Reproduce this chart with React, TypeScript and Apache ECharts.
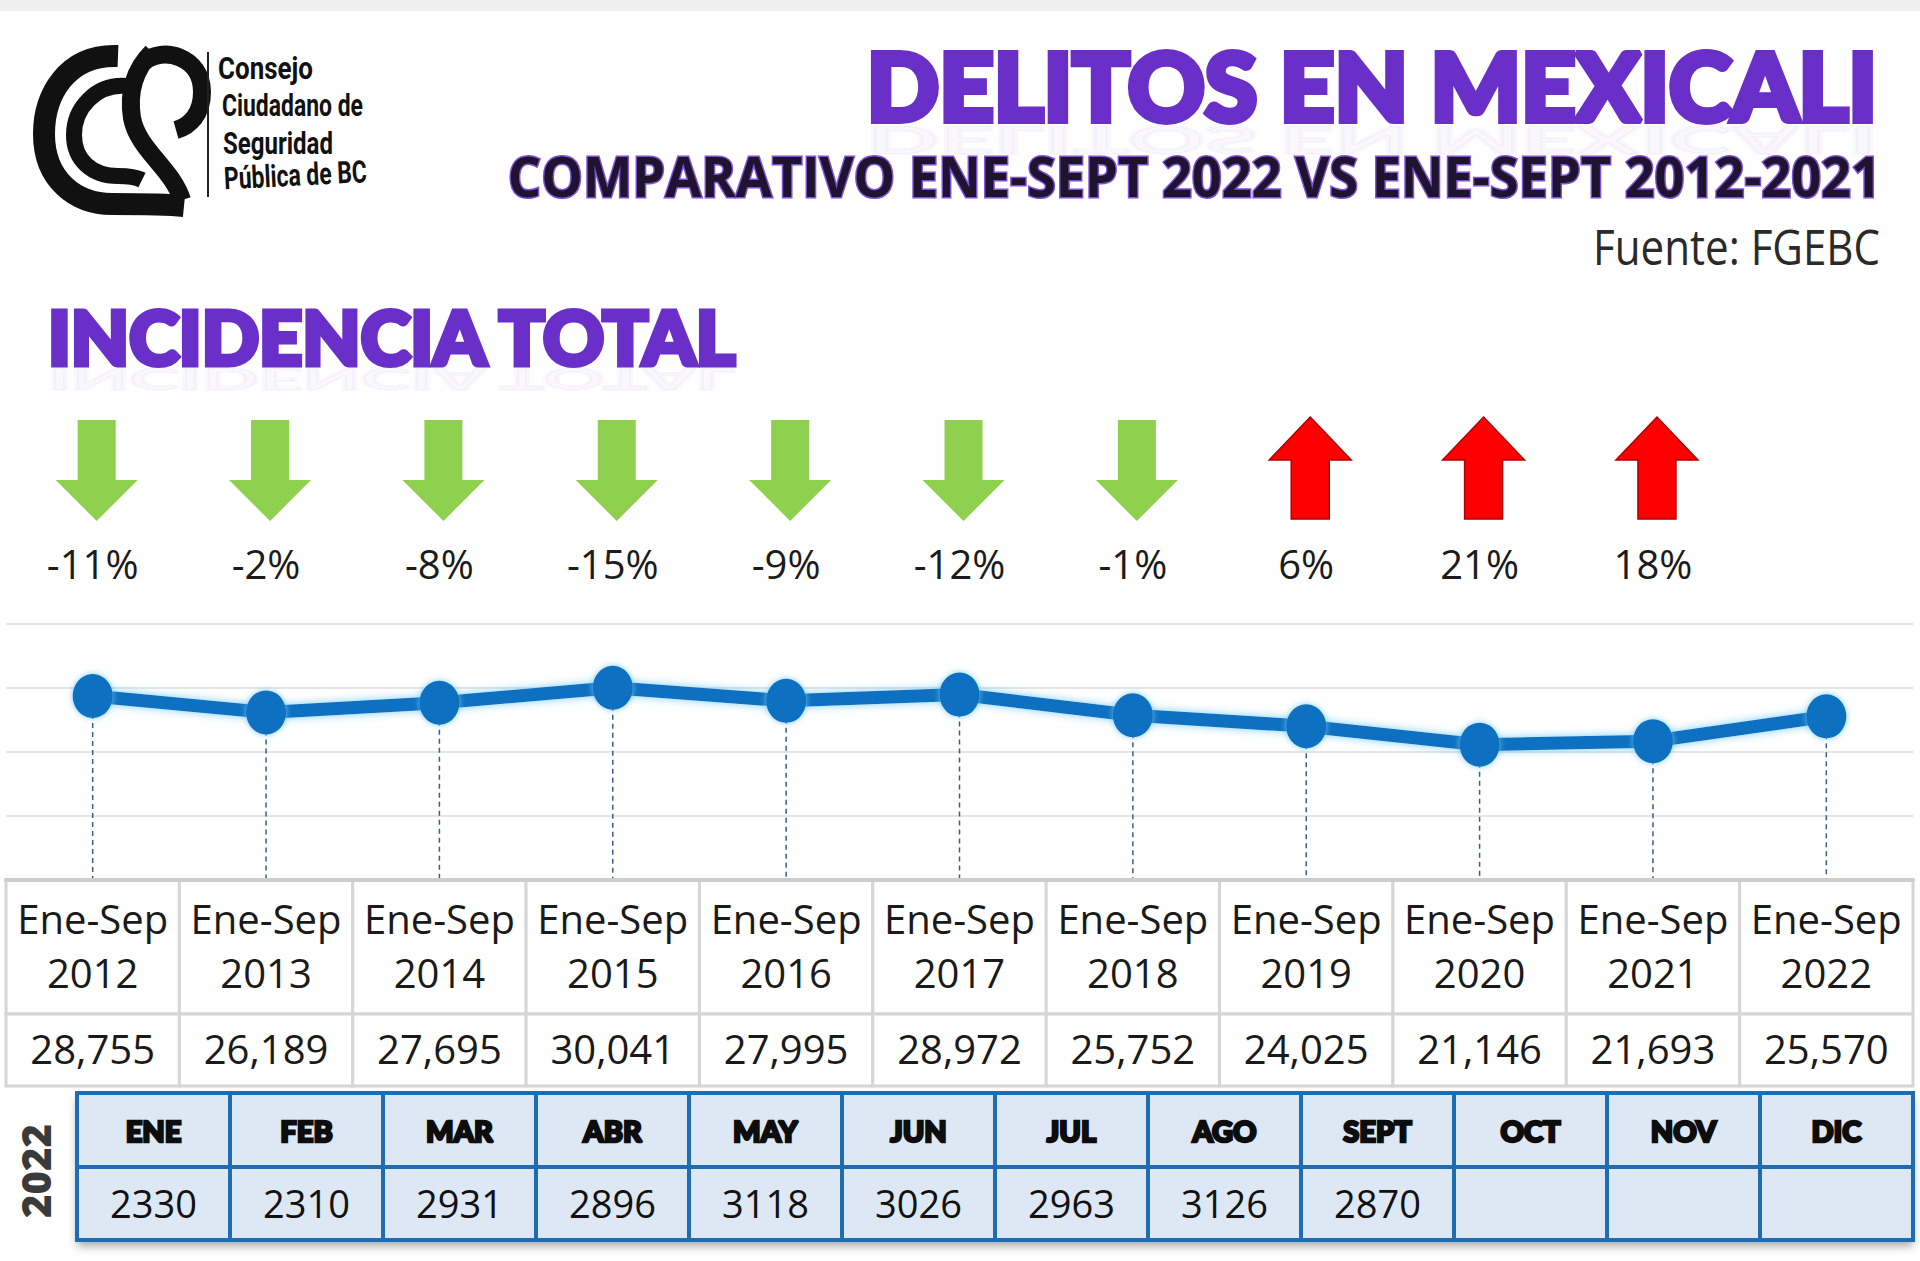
import React, { useEffect, useRef } from "react";
import * as echarts from "echarts";

// ---------------- data ----------------
const yearLabels = ["2012", "2013", "2014", "2015", "2016", "2017", "2018", "2019", "2020", "2021", "2022"];
const periodPrefix = "Ene-Sep";
const totals = [28755, 26189, 27695, 30041, 27995, 28972, 25752, 24025, 21146, 21693, 25570];
const changes = [-11, -2, -8, -15, -9, -12, -1, 6, 21, 18];
const months = ["ENE", "FEB", "MAR", "ABR", "MAY", "JUN", "JUL", "AGO", "SEPT", "OCT", "NOV", "DIC"];
const monthly2022 = [2330, 2310, 2931, 2896, 3118, 3026, 2963, 3126, 2870];
const yMin = 0;
const yMax = 40000;
const yInterval = 10000;

// ---------------- layout / style ----------------
const FONT = '"Open Sans", "Noto Sans", sans-serif';
const HEAVY = 'Lato, "DejaVu Sans", sans-serif';
const COND = 'Roboto, "Open Sans", sans-serif';

const GRID_LEFT = 6;
const GRID_RIGHT = 7;
const GRID_TOP = 624;
const GRID_H = 256;
const HEAD_H = 134;
const VAL_H = 72;
const M_LEFT = 77;
const M_RIGHT = 7;
const M_TOP = 1093;
const M_H = 147;
const M_HEAD_H = 74;

const LOGO_PATHS: Record<string, string> = {
  ccspOuter: "M 118 56 C 66 54 44 96 44 134 C 44 180 76 204 112 204 C 142 204 164 204 184 206",
  ccspInner: "M 126 86 C 96 84 74 108 74 135 C 74 160 92 176 118 176 C 128 176 136 177 142 180",
  ccspStem: "M 182 200 C 172 168 138 150 132 118 C 128 92 134 70 152 52",
  ccspLoop: "M 144 62 C 162 46 202 56 202 92 C 202 114 190 126 176 130",
};
Object.keys(LOGO_PATHS).forEach((name) => {
  echarts.graphic.registerShape(name, echarts.graphic.extendPath(LOGO_PATHS[name], {}));
});

let measureCtx: CanvasRenderingContext2D | null = null;
function textWidth(text: string, font: string): number {
  if (!measureCtx) measureCtx = document.createElement("canvas").getContext("2d");
  if (!measureCtx) return text.length * 10;
  measureCtx.font = font;
  return measureCtx.measureText(text).width;
}

type TitleOpts = {
  text: string;
  family: string;
  weight: string | number;
  size: number;
  capRatio: number;
  target: number;
  x: number;
  capCenter: number;
  align: "left" | "right" | "center";
  fill: any;
  stroke?: string;
  lineWidth?: number;
  reflect?: number;
  rotation?: number;
};

function titleText(o: TitleOpts): any[] {
  const font = `${o.weight} ${o.size}px ${o.family}`;
  const w = textWidth(o.text, font);
  const sx = o.target / w;
  const capH = o.size * o.capRatio;
  const base: any = {
    text: o.text,
    x: 0,
    y: 0,
    fontSize: o.size,
    fontFamily: o.family,
    fontWeight: o.weight,
    align: o.align,
    textAlign: o.align,
    verticalAlign: "middle",
    textVerticalAlign: "middle",
    fill: o.fill,
  };
  if (o.stroke) {
    base.stroke = o.stroke;
    base.lineWidth = o.lineWidth || 1;
    base.strokeFirst = true;
    base.lineJoin = "round";
  }
  const els: any[] = [];
  if (o.reflect) {
    els.push({
      type: "text",
      x: o.x,
      y: o.capCenter + capH / 2 + 4,
      scaleX: sx,
      scaleY: -0.4,
      style: { ...base, y: -capH / 2 - 0.03 * o.size, opacity: o.reflect },
      silent: true,
    });
  }
  els.push({
    type: "text",
    x: o.x,
    y: o.capCenter - 0.03 * o.size,
    scaleX: sx,
    rotation: o.rotation || 0,
    style: base,
    silent: true,
  });
  return els;
}

function buildOption(): any {
  const purple = "#6a2fc9";

  const graphics: any[] = [
    { type: "rect", shape: { x: 0, y: 0, width: 1920, height: 11 }, style: { fill: "#efefef" }, silent: true },
    // logo
    { type: "ccspOuter", x: 0, y: 0, style: { fill: "none", stroke: "#111", lineWidth: 22 }, silent: true },
    { type: "ccspInner", x: 0, y: 0, style: { fill: "none", stroke: "#111", lineWidth: 16 }, silent: true },
    { type: "ccspStem", x: 0, y: 0, style: { fill: "none", stroke: "#111", lineWidth: 18 }, silent: true },
    { type: "ccspLoop", x: 0, y: 0, style: { fill: "none", stroke: "#111", lineWidth: 18 }, silent: true },
    { type: "line", shape: { x1: 208, y1: 52, x2: 208, y2: 197 }, style: { stroke: "#222", lineWidth: 2 }, silent: true },
    ...titleText({ text: "Consejo", family: COND, weight: 700, size: 31, capRatio: 0.711, target: 95, x: 218, capCenter: 69, align: "left", fill: "#111" }),
    ...titleText({ text: "Ciudadano de", family: COND, weight: 700, size: 31, capRatio: 0.711, target: 141, x: 222, capCenter: 107, align: "left", fill: "#111" }),
    ...titleText({ text: "Seguridad", family: COND, weight: 700, size: 31, capRatio: 0.711, target: 110, x: 223, capCenter: 144, align: "left", fill: "#111" }),
    ...titleText({ text: "Pública de BC", family: COND, weight: 700, size: 31, capRatio: 0.711, target: 143, x: 224, capCenter: 180, align: "left", fill: "#111", rotation: 0.05 }),
    // titles
    ...titleText({ text: "DELITOS EN MEXICALI", family: HEAVY, weight: 900, size: 94, capRatio: 0.717, target: 1010, x: 1877, capCenter: 88, align: "right", fill: purple, stroke: purple, lineWidth: 6, reflect: 0.045 }),
    ...titleText({ text: "COMPARATIVO ENE-SEPT 2022 VS ENE-SEPT 2012-2021", family: FONT, weight: 700, size: 56, capRatio: 0.714, target: 1374, x: 1881, capCenter: 177, align: "right", fill: "#1e1430", stroke: "#8350d8", lineWidth: 3 }),
    ...titleText({ text: "Fuente: FGEBC", family: FONT, weight: 400, size: 49, capRatio: 0.714, target: 287, x: 1880, capCenter: 247, align: "right", fill: "#2a2a2a" }),
    ...titleText({ text: "INCIDENCIA TOTAL", family: HEAVY, weight: 900, size: 74, capRatio: 0.717, target: 692, x: 48, capCenter: 338, align: "left", fill: purple, stroke: purple, lineWidth: 5, reflect: 0.045 }),
    // 2022 vertical label
    {
      type: "text",
      x: 35,
      y: 1171,
      rotation: Math.PI / 2,
      style: {
        text: "2022",
        x: 0,
        y: 0,
        fontSize: 40,
        fontFamily: FONT,
        fontWeight: 800,
        fill: "#3a3a3a",
        align: "center",
        textAlign: "center",
        verticalAlign: "middle",
        textVerticalAlign: "middle",
      },
      silent: true,
    },
    // monthly table frame shadow
    {
      type: "rect",
      shape: { x: M_LEFT, y: M_TOP, width: 1920 - M_LEFT - M_RIGHT, height: M_H },
      style: { fill: "#dde8f4", shadowColor: "rgba(0,0,0,0.35)", shadowBlur: 10, shadowOffsetY: 6 },
      silent: true,
    },
  ];

  const lineBlue = "#0b6fc0";

  const series: any[] = [
    // yearly table cells (under the axis)
    {
      type: "custom",
      xAxisIndex: 0,
      yAxisIndex: 0,
      z: 1,
      clip: false,
      silent: true,
      data: totals.map((v, i) => [i, v]),
      renderItem: (params: any, api: any) => {
        const i = api.value(0);
        const p = api.coord([i, yMin]);
        const w = api.size([1, 0])[0];
        const idx = params.dataIndex;
        const cx = p[0];
        const y0 = p[1];
        const txt = (t: string, y: number, lh?: number) => ({
          type: "text",
          style: {
            text: t,
            x: cx,
            y,
            fontSize: 40,
            fontFamily: FONT,
            fill: "#1a1a1a",
            lineHeight: lh || 50,
            align: "center",
            textAlign: "center",
            verticalAlign: "middle",
            textVerticalAlign: "middle",
          },
        });
        return {
          type: "group",
          children: [
            { type: "rect", shape: { x: cx - w / 2, y: y0, width: w, height: HEAD_H }, style: { fill: "#fff", stroke: "#d6d6d6", lineWidth: 3 } },
            { type: "rect", shape: { x: cx - w / 2, y: y0 + HEAD_H, width: w, height: VAL_H }, style: { fill: "#fff", stroke: "#d6d6d6", lineWidth: 3 } },
            txt(periodPrefix + "\n" + yearLabels[idx], y0 + HEAD_H / 2 - 2, 54),
            txt(totals[idx].toLocaleString("en-US"), y0 + HEAD_H + VAL_H / 2 - 2),
          ],
        };
      },
    },
    // dashed drop lines
    {
      type: "custom",
      xAxisIndex: 0,
      yAxisIndex: 0,
      z: 1,
      clip: false,
      silent: true,
      data: totals.map((v, i) => [i, v]),
      renderItem: (params: any, api: any) => {
        const a = api.coord([api.value(0), api.value(1)]);
        const b = api.coord([api.value(0), yMin]);
        return {
          type: "line",
          shape: { x1: a[0], y1: a[1], x2: b[0], y2: b[1] },
          style: { stroke: "#3a5f80", lineWidth: 1.5, lineDash: [5, 4] },
        };
      },
    },
    // main line
    {
      type: "line",
      xAxisIndex: 0,
      yAxisIndex: 0,
      z: 3,
      data: totals,
      symbol: "circle",
      symbolSize: [40, 44],
      lineStyle: { color: lineBlue, width: 13, shadowColor: "rgba(110,200,245,0.9)", shadowBlur: 8 },
      itemStyle: { color: lineBlue, shadowColor: "rgba(110,200,245,0.9)", shadowBlur: 6 },
      label: { show: false },
      silent: true,
    },
    // change arrows + percentage
    {
      type: "custom",
      xAxisIndex: 0,
      yAxisIndex: 0,
      z: 4,
      clip: false,
      silent: true,
      data: changes.map((c, i) => [i, c]),
      renderItem: (params: any, api: any) => {
        const i = api.value(0);
        const c = changes[params.dataIndex];
        const top = api.coord([i, yMax]);
        const cx = top[0] + 4;
        const g = top[1];
        const sw = 19;
        const hw = 41;
        let points: number[][];
        let style: any;
        if (c < 0) {
          const t = g - 204, hs = g - 144, tip = g - 103;
          points = [[cx - sw, t], [cx + sw, t], [cx + sw, hs], [cx + hw, hs], [cx, tip], [cx - hw, hs], [cx - sw, hs]];
          style = { fill: "#8fd14f" };
        } else {
          const tip = g - 207, hb = g - 164, bot = g - 105;
          points = [[cx, tip], [cx + hw, hb], [cx + sw, hb], [cx + sw, bot], [cx - sw, bot], [cx - sw, hb], [cx - hw, hb]];
          style = { fill: "#ff0000", stroke: "#b00000", lineWidth: 1.5 };
        }
        return {
          type: "group",
          children: [
            { type: "polygon", shape: { points }, style },
            {
              type: "text",
              style: {
                text: `${c}%`,
                x: top[0],
                y: g - 61,
                fontSize: 40,
                fontFamily: FONT,
                fill: "#1b1b1b",
                align: "center",
                textAlign: "center",
                verticalAlign: "middle",
                textVerticalAlign: "middle",
              },
            },
          ],
        };
      },
    },
    // monthly 2022 table
    {
      type: "custom",
      xAxisIndex: 1,
      yAxisIndex: 1,
      z: 2,
      clip: false,
      silent: true,
      data: months.map((m, i) => [i, 1]),
      renderItem: (params: any, api: any) => {
        const i = api.value(0);
        const idx = params.dataIndex;
        const t = api.coord([i, 1]);
        const b = api.coord([i, 0]);
        const w = api.size([1, 0])[0];
        const x0 = t[0] - w / 2;
        const cellStyle = { fill: "#dde8f4", stroke: "#1e6db3", lineWidth: 4 };
        const v = monthly2022[idx];
        return {
          type: "group",
          children: [
            { type: "rect", shape: { x: x0, y: t[1], width: w, height: M_HEAD_H }, style: cellStyle },
            { type: "rect", shape: { x: x0, y: t[1] + M_HEAD_H, width: w, height: b[1] - t[1] - M_HEAD_H }, style: cellStyle },
            {
              type: "text",
              style: {
                text: months[idx],
                x: t[0],
                y: t[1] + M_HEAD_H / 2,
                fontSize: 29,
                fontFamily: HEAVY,
                fontWeight: 900,
                fill: "#0d0d0d",
                stroke: "#0d0d0d",
                lineWidth: 2.5,
                lineJoin: "round",
                align: "center",
                textAlign: "center",
                verticalAlign: "middle",
                textVerticalAlign: "middle",
              },
            },
            {
              type: "text",
              style: {
                text: v == null ? "" : String(v),
                x: t[0],
                y: t[1] + M_HEAD_H + (b[1] - t[1] - M_HEAD_H) / 2 - 1,
                fontSize: 38,
                fontFamily: FONT,
                fill: "#111",
                align: "center",
                textAlign: "center",
                verticalAlign: "middle",
                textVerticalAlign: "middle",
              },
            },
          ],
        };
      },
    },
  ];

  return {
    animation: false,
    backgroundColor: "#ffffff",
    grid: [
      { left: GRID_LEFT, right: GRID_RIGHT, top: GRID_TOP, height: GRID_H },
      { left: M_LEFT, right: M_RIGHT, top: M_TOP, height: M_H },
    ],
    xAxis: [
      {
        type: "category",
        gridIndex: 0,
        data: yearLabels,
        boundaryGap: true,
        z: 3,
        axisLine: { show: true, lineStyle: { color: "#cdcdcd", width: 4 } },
        axisTick: { show: false },
        axisLabel: { show: false },
        splitLine: { show: false },
      },
      { type: "category", gridIndex: 1, data: months, boundaryGap: true, show: false },
    ],
    yAxis: [
      {
        type: "value",
        gridIndex: 0,
        min: yMin,
        max: yMax,
        interval: yInterval,
        axisLine: { show: false },
        axisTick: { show: false },
        axisLabel: { show: false },
        splitLine: { show: true, lineStyle: { color: "#e6e6e6", width: 2 } },
      },
      { type: "value", gridIndex: 1, min: 0, max: 1, show: false },
    ],
    tooltip: { show: false },
    graphic: { elements: graphics },
    series,
  };
}

export default function App() {
  const ref = useRef<HTMLDivElement>(null);
  useEffect(() => {
    document.body.style.margin = "0";
    document.body.style.background = "#ffffff";
    if (!ref.current) return;
    const chart = echarts.init(ref.current, undefined, { renderer: "svg" });
    chart.setOption(buildOption());
    return () => chart.dispose();
  }, []);
  return (
    <div
      ref={ref}
      style={{ position: "absolute", left: 0, top: 0, width: 1920, height: 1261, background: "#ffffff" }}
    />
  );
}
